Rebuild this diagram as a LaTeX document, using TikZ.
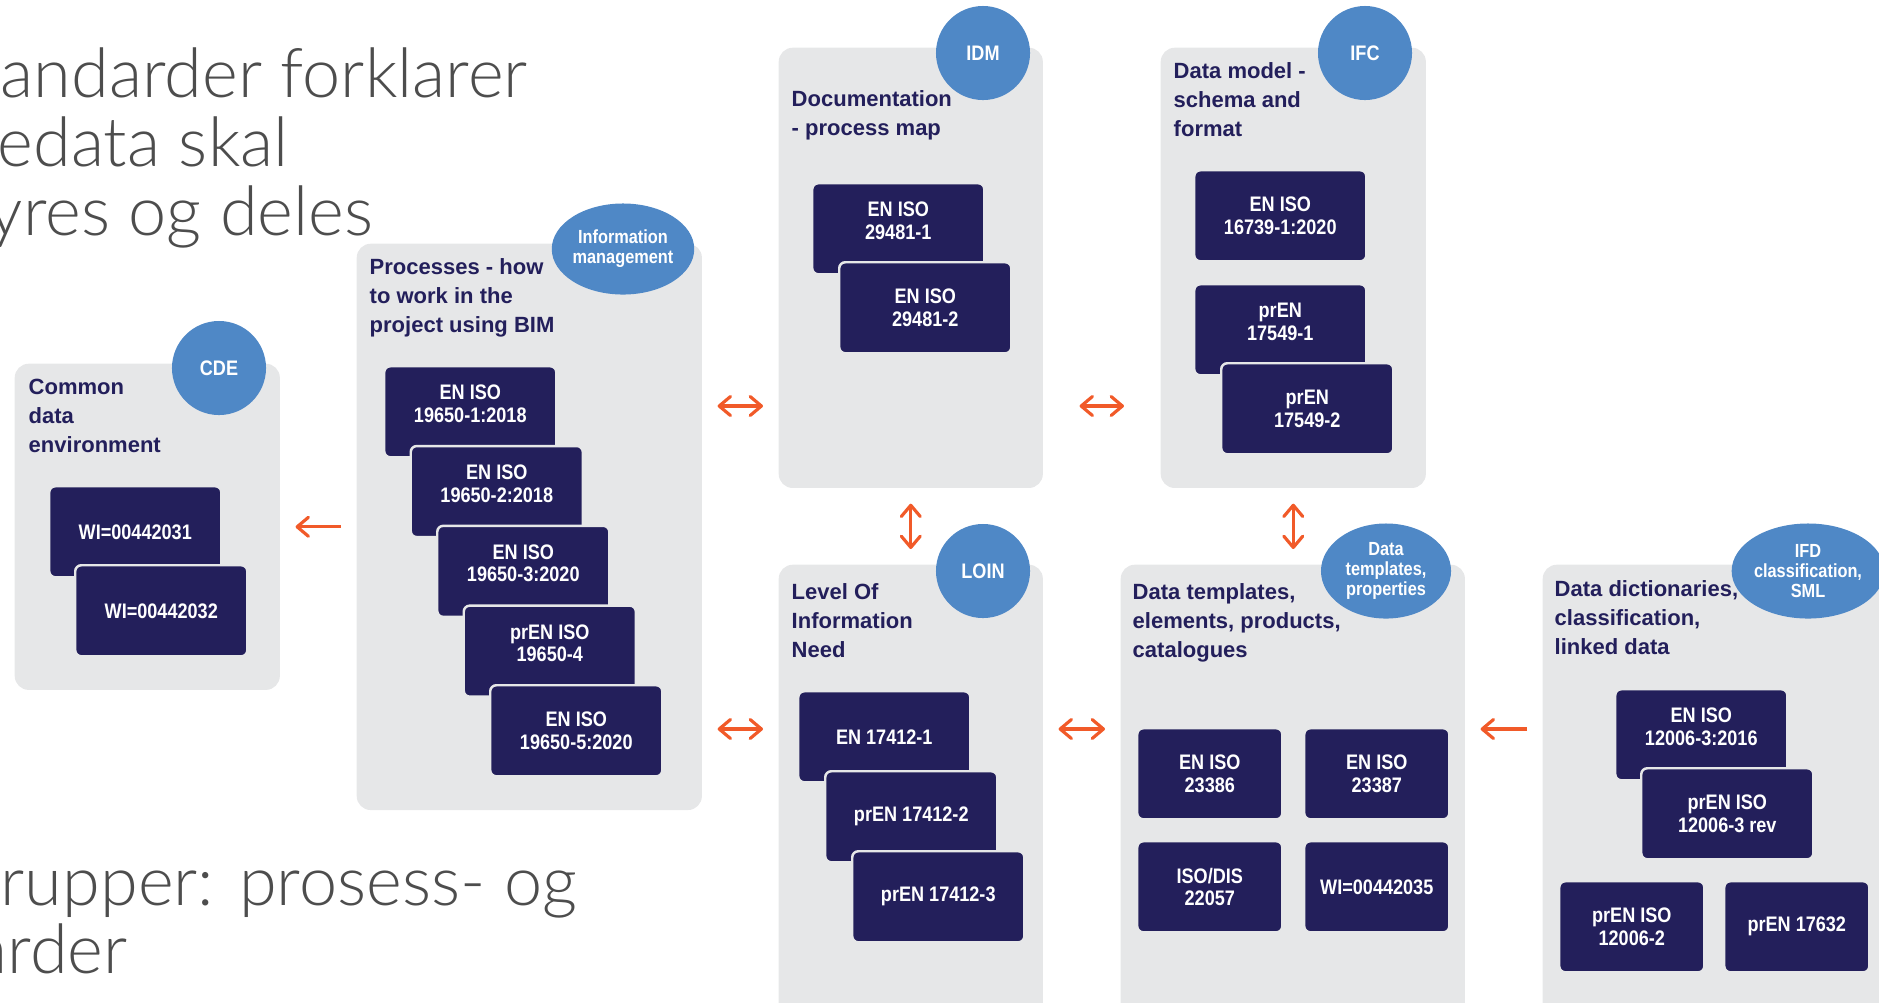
\documentclass[tikz,border=0pt]{standalone}
\usepackage{fontspec}
\setmainfont{Liberation Sans}
\newfontfamily\narrowfont[FakeStretch=0.86]{Liberation Sans}
\newfontfamily\lightfont{Lato Light}
\usetikzlibrary{arrows.meta,shapes.geometric}

\definecolor{panelgrey}{HTML}{E6E7E8}
\definecolor{stdnavy}{HTML}{231F5B}
\definecolor{badgeblue}{HTML}{4F88C6}
\definecolor{linkorange}{HTML}{F15A29}
\definecolor{slidegrey}{HTML}{4D4D4D}

\tikzset{
	panel/.style={fill=panelgrey, rounded corners=0.14cm, anchor=north west, inner sep=0pt},
	paneltitle/.style={anchor=north west, inner sep=0pt, align=left, text=stdnavy,
		font=\bfseries\fontsize{6.26}{8.25}\selectfont},
	stdbox/.style={fill=stdnavy, draw=panelgrey, line width=0.7pt, rounded corners=0.06cm,
		anchor=north west, minimum width=1.72cm, minimum height=0.91cm, inner sep=0pt,
		text=white, align=center, font=\narrowfont\bfseries\fontsize{5.98}{6.4}\selectfont},
	coveredbox/.style={stdbox, text depth=0.16cm},
	widebox/.style={stdbox, minimum width=1.45cm},
	badge/.style={circle, fill=badgeblue, minimum size=0.94cm, inner sep=0pt, text=white,
		align=center, font=\narrowfont\bfseries\fontsize{5.98}{6.4}\selectfont},
	badgeoval/.style={ellipse, fill=badgeblue, inner sep=0pt, text=white, align=center,
		font=\narrowfont\bfseries\fontsize{5.4}{5.7}\selectfont},
	barb/.tip={Straight Barb[length=3.2pt,width=5.4pt,round]},
	link/.style={linkorange, line width=0.9pt, shorten >=0.15cm, shorten <=0.15cm, barb-barb},
	onelink/.style={link, -barb},
	slidetext/.style={anchor=base west, inner sep=0pt, text=slidegrey,
		font=\lightfont\fontsize{19.45}{20}\selectfont}
}

\begin{document}
\begin{tikzpicture}[x=0.01cm,y=-0.01cm]
	\useasboundingbox (0,0) rectangle (1879,1002);
	\clip (0,0) rectangle (1879,1002);

	% slide text behind the figure
	\node[slidetext] (head1) at (0,97) {andarder forklarer};
	\node[slidetext] (head2) at (-3,166) {edata skal};
	\node[slidetext] (head3) at (-12,235) {yres og deles};
	\node[slidetext] (foot1) at (0,905) {rupper: prosess- og};
	\node[slidetext] (foot2) at (-26,973) {arder};

	% panels
	\node[panel, minimum width=2.65cm, minimum height=3.26cm] (cde) at (14,363) {};
	\node[panel, minimum width=3.45cm, minimum height=5.66cm] (proc) at (356,243) {};
	\node[panel, minimum width=2.64cm, minimum height=4.40cm] (idm) at (778,47) {};
	\node[panel, minimum width=2.65cm, minimum height=4.40cm] (ifc) at (1160,47) {};
	\node[panel, minimum width=2.64cm, minimum height=4.60cm] (loin) at (778,564) {};
	\node[panel, minimum width=3.44cm, minimum height=4.60cm] (dtpl) at (1120,564) {};
	\node[panel, minimum width=3.60cm, minimum height=4.60cm] (dict) at (1542,564) {};

	% badges
	\node[badge] (cdebadge) at (219,368) {CDE};
	\node[badgeoval, minimum width=1.32cm, minimum height=0.91cm] (procbadge) at (623,249) {Information\\management};
	\node[badge] (idmbadge) at (983,53) {IDM};
	\node[badge] (ifcbadge) at (1365,53) {IFC};
	\node[badge] (loinbadge) at (983,571) {LOIN};
	\node[badgeoval, minimum width=1.30cm, minimum height=0.95cm] (dtplbadge) at (1386,571) {Data\\templates,\\properties};
	\node[badgeoval, minimum width=1.34cm, minimum height=0.95cm] (dictbadge) at (1808,571) {IFD\\classification,\\SML};

	% titles
	\node[paneltitle] (cdetitle) at (28,378) {Common\\data\\environment};
	\node[paneltitle] (proctitle) at (369,258) {Processes - how\\to work in the\\project using BIM};
	\node[paneltitle] (idmtitle) at (791,90) {Documentation\\- process map};
	\node[paneltitle] (ifctitle) at (1173,62) {Data model -\\schema and\\format};
	\node[paneltitle] (lointitle) at (791,583) {Level Of\\Information\\Need};
	\node[paneltitle] (dtpltitle) at (1132,583) {Data templates,\\elements, products,\\catalogues};
	\node[paneltitle] (dicttitle) at (1554,580) {Data dictionaries,\\classification,\\linked data};

	% standards
	\node[stdbox] (cde1) at (48,485) {WI=00442031};
	\node[stdbox] (cde2) at (74,564) {WI=00442032};
	\foreach \lbl [count=\i] in {{EN ISO\\19650-1:2018}, {EN ISO\\19650-2:2018}, {EN ISO\\19650-3:2020}, {prEN ISO\\19650-4}} {
		\node[coveredbox] (proc\i) at ({383+26.5*(\i-1)}, {365+79.8*(\i-1)}) {\lbl};
	}
	\node[stdbox] (proc5) at (489,684) {EN ISO\\19650-5:2020};
	\node[coveredbox] (idm1) at (811,182) {EN ISO\\29481-1};
	\node[stdbox] (idm2) at (838,261) {EN ISO\\29481-2};
	\node[stdbox] (ifc1) at (1193,169) {EN ISO\\16739-1:2020};
	\node[coveredbox] (ifc2) at (1193,283) {prEN\\17549-1};
	\node[stdbox] (ifc3) at (1220,362) {prEN\\17549-2};
	\foreach \lbl [count=\i] in {EN 17412-1, prEN 17412-2, prEN 17412-3} {
		\node[stdbox] (loin\i) at ({797+27*(\i-1)}, {690+80*(\i-1)}) {\lbl};
	}
	\node[widebox] (dtpl1) at (1136,727) {EN ISO\\23386};
	\node[widebox] (dtpl2) at (1303,727) {EN ISO\\23387};
	\node[widebox] (dtpl3) at (1136,840) {ISO/DIS\\22057};
	\node[widebox] (dtpl4) at (1303,840) {WI=00442035};
	\node[coveredbox] (dict1) at (1614,688) {EN ISO\\12006-3:2016};
	\node[stdbox] (dict2) at (1640,767) {prEN ISO\\12006-3 rev};
	\node[widebox] (dict3) at (1558,880) {prEN ISO\\12006-2};
	\node[widebox] (dict4) at (1723,880) {prEN 17632};

	% links
	\coordinate (row1) at (0,406);
	\coordinate (row2) at (0,729);
	\draw[link] (proc.east |- row1) -- (idm.west |- row1);
	\draw[link, shorten >=0.36cm, shorten <=0.36cm] (idm.east |- row1) -- (ifc.west |- row1);
	\draw[link] (idm.south) -- (loin.north);
	\draw[link] (ifc.south) -- (ifc.south |- dtpl.north);
	\draw[link] (proc.east |- row2) -- (loin.west |- row2);
	\draw[link] (loin.east |- row2) -- (dtpl.west |- row2);
	\draw[onelink] (dict.west |- row2) -- (dtpl.east |- row2);
	\draw[onelink] (proc.west |- cde.east) -- (cde.east);
\end{tikzpicture}
\end{document}
